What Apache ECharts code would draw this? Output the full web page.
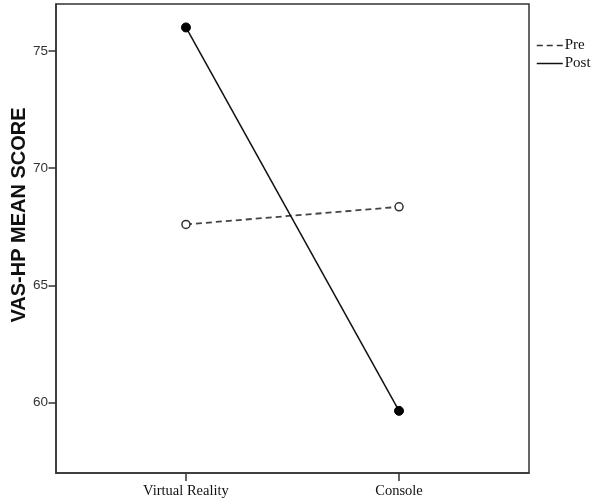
<!DOCTYPE html>
<html><head><meta charset="utf-8">
<script src="https://cdn.jsdelivr.net/npm/echarts@6/dist/echarts.min.js"></script>
<style>html,body{margin:0;padding:0;background:#fff}#c{width:593px;height:503px}</style>
</head><body><div id="c"></div>
<script>
const categories = ['Virtual Reality', 'Console'];
const preValues = [67.6, 68.35];
const postValues = [76.0, 59.65];
const yTicks = [60, 65, 70, 75];
const seriesNames = ['Pre', 'Post'];

const xPos = categories.map((c, i) => i + 1);
const chart = echarts.init(document.getElementById('c'));
chart.setOption({
  animation: false,
  backgroundColor: '#fff',
  grid: {left: 56, top: 4, right: 64, bottom: 30, show: true, borderColor: '#333', borderWidth: 1.5,
         containLabel: false, outerBoundsMode: 'none'},
  legend: {
    orient: 'vertical', left: 531, top: 33, itemGap: 3, itemWidth: 26, itemHeight: 14,
    textStyle: {fontFamily: 'Liberation Serif', fontSize: 15, color: '#111', padding: [0,0,0,-3]},
    data: [
      {name: seriesNames[0], lineStyle: {type: [6, 4], width: 1.5, color: '#333'}},
      {name: seriesNames[1], lineStyle: {width: 1.5, color: '#111'}}
    ],
    itemStyle: {opacity: 0}
  },
  xAxis: {
    type: 'value', min: 0.39, max: 2.61,
    splitLine: {show: false},
    axisLine: {lineStyle: {color: '#333', width: 1.5}},
    axisTick: {show: true, length: 8, customValues: xPos, lineStyle: {color: '#333', width: 1.5}},
    axisLabel: {customValues: xPos, formatter: v => categories[Math.round(v) - 1] || '',
      fontFamily: 'Liberation Serif', fontSize: 14.5, color: '#111', margin: 11}
  },
  yAxis: {
    type: 'value', min: 57, max: 77,
    name: 'VAS-HP MEAN SCORE', nameLocation: 'middle', nameGap: 27, nameMoveOverlap: false,
    nameTextStyle: {fontFamily: 'Liberation Sans', fontWeight: 'bold', fontSize: 20, color: '#111', padding: [0,0,0,47]},
    splitLine: {show: false},
    axisLine: {lineStyle: {color: '#333', width: 1.5}},
    axisTick: {show: true, length: 7.5, customValues: yTicks, lineStyle: {color: '#333', width: 1.5}},
    axisLabel: {customValues: yTicks, fontFamily: 'Liberation Sans', fontSize: 13.5, color: '#333', margin: 8}
  },
  series: [
    {name: seriesNames[0], type: 'line', data: xPos.map((x, i) => [x, preValues[i]]),
     symbol: 'circle', symbolSize: 8,
     lineStyle: {color: '#444', width: 1.8, type: [6, 4]},
     itemStyle: {color: '#fff', borderColor: '#333', borderWidth: 1.5}},
    {name: seriesNames[1], type: 'line', data: xPos.map((x, i) => [x, postValues[i]]),
     symbol: 'circle', symbolSize: 9,
     lineStyle: {color: '#111', width: 1.5},
     itemStyle: {color: '#000', borderColor: '#000'}}
  ]
});
</script></body></html>
